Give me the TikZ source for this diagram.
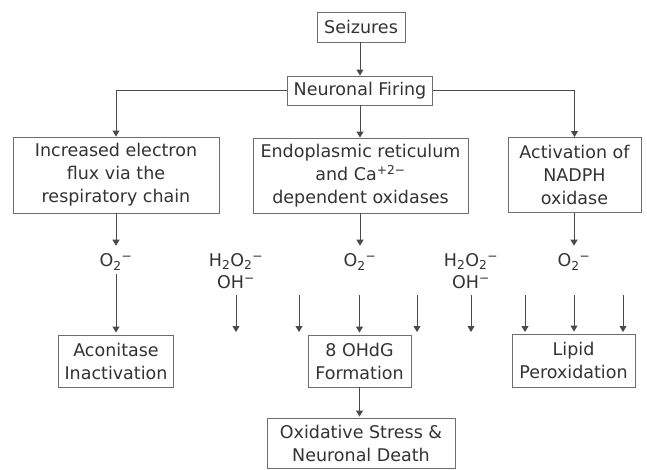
\documentclass[tikz,border=0pt]{standalone}
\usepackage{fontspec}
\setmainfont{DejaVu Sans}
\usetikzlibrary{arrows.meta}
\definecolor{txt}{HTML}{333333}
\definecolor{edge}{HTML}{6E6E6E}
\definecolor{ln}{HTML}{4A4A4A}
\begin{document}
\begin{tikzpicture}[x=1pt,y=-1pt,
  box/.style={draw=edge, line width=0.9pt, text=txt, align=center, inner sep=0pt,
    font=\fontsize{17.5}{23}\selectfont},
  lbl/.style={text=txt, align=center, inner sep=1pt, font=\fontsize{17.5}{22}\selectfont},
  arr/.style={draw=ln, line width=0.9pt, -{Triangle[width=7pt,length=6pt]}}]
\useasboundingbox (0,0) rectangle (647,469);
\fill[white] (0,0) rectangle (647,469);

% boxes
\node[box, minimum width=88pt, minimum height=30pt] (seiz) at (361,27) {Seizures};
\node[box, minimum width=145pt, minimum height=29pt] (fire) at (360,90.5) {Neuronal Firing};
\node[box, minimum width=206pt, minimum height=76pt] (incr) at (116,175)
  {Increased electron\\flux via the\\respiratory chain};
\node[box, minimum width=215pt, minimum height=75pt] (er) at (360.5,175.5)
  {Endoplasmic reticulum\\and Ca\textsuperscript{+2−}\\dependent oxidases};
\node[box, minimum width=133pt, minimum height=75pt] (nadph) at (574.5,175)
  {Activation of\\NADPH\\oxidase};

\node[box, minimum width=115pt, minimum height=52pt] (acon) at (116,361) {Aconitase\\Inactivation};
\node[box, minimum width=103pt, minimum height=52pt] (ohdg) at (359.5,361) {8 OHdG\\Formation};
\node[box, minimum width=123pt, minimum height=53pt] (lipid) at (573.5,360.5) {Lipid\\Peroxidation};
\node[box, minimum width=188pt, minimum height=50pt] (oxid) at (361,443) {Oxidative Stress \&\\Neuronal Death};

% species labels
\node[lbl] (o2a) at (116,262) {O\textsubscript{2}\textsuperscript{−}};
\node[lbl] (o2b) at (360,262) {O\textsubscript{2}\textsuperscript{−}};
\node[lbl] (o2c) at (574,262) {O\textsubscript{2}\textsuperscript{−}};
\node[lbl] (hoa) at (236,271) {H\textsubscript{2}O\textsubscript{2}\textsuperscript{−}\\OH\textsuperscript{−}};
\node[lbl] (hob) at (471,271) {H\textsubscript{2}O\textsubscript{2}\textsuperscript{−}\\OH\textsuperscript{−}};

% top connectors
\draw[arr] (seiz.south -| fire) -- (fire.north);
\draw[arr] (fire.west) -| (incr.north);
\draw[arr] (fire.south) -- (fire.south |- er.north);
\draw[arr] (fire.east) -| (nadph.north);

\draw[arr, shorten >=7pt] (incr.south) -- (o2a.north);
\draw[arr, shorten >=7pt] (er.south -| o2b) -- (o2b.north);
\draw[arr, shorten >=7pt] (nadph.south -| o2c) -- (o2c.north);

% lower arrows
\draw[arr, shorten <=3pt, shorten >=2pt] (o2a.south) -- (acon.north);

\coordinate (a1) at (236,295); \coordinate (b1) at (236,332);
\coordinate (a2) at (299,295); \coordinate (b2) at (299,332);
\coordinate (a3) at (359.5,295);
\coordinate (a4) at (417,295); \coordinate (b4) at (417,332);
\coordinate (a5) at (471,295); \coordinate (b5) at (471,332);
\coordinate (a6) at (525,295); \coordinate (b6) at (525,332);
\coordinate (a7) at (574,295);
\coordinate (a8) at (623,295); \coordinate (b8) at (623,332);

\draw[arr] (a1) -- (b1);
\draw[arr] (a2) -- (b2);
\draw[arr, shorten >=2pt] (a3) -- (a3 |- ohdg.north);
\draw[arr] (a4) -- (b4);
\draw[arr] (a5) -- (b5);
\draw[arr] (a6) -- (b6);
\draw[arr, shorten >=2pt] (a7) -- (a7 |- lipid.north);
\draw[arr] (a8) -- (b8);

\draw[arr, shorten >=1pt] (ohdg.south) -- (ohdg.south |- oxid.north);
\end{tikzpicture}
\end{document}
